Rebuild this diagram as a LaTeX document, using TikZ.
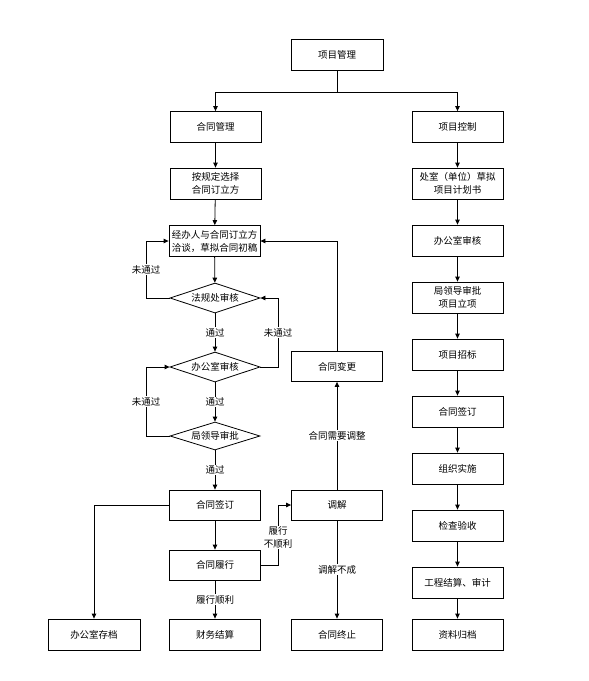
\documentclass[tikz,border=0pt]{standalone}
\usepackage{fontspec}
\setmainfont{Noto Sans CJK SC}
\usetikzlibrary{arrows.meta,shapes.geometric}
\begin{document}
\begin{tikzpicture}[x=1pt,y=-1pt,
  every node/.style={font=\fontsize{9.5}{13}\selectfont},
  box/.style={draw,line width=0.8pt,minimum width=91pt,minimum height=31pt,inner sep=1pt,align=center},
  dia/.style={draw,line width=0.8pt,diamond,aspect=3,minimum width=90pt,minimum height=30pt,inner sep=0pt},
  lbl/.style={fill=white,inner sep=1pt,align=center},
  line/.style={line width=0.8pt},
  arr/.style={line width=0.8pt,-{Triangle[length=5pt,width=4.5pt]}}]
\useasboundingbox (0,0) rectangle (589,681);
% nodes
\node[box,minimum width=92pt] (pm) at (337,54.5) {项目管理};
\node[box] (htgl) at (215.5,127) {合同管理};
\node[box] (xmkz) at (457.5,127) {项目控制};
\node[box] (azd) at (215.5,183.5) {按规定选择\\合同订立方};
\node[box] (jbr) at (214.5,241) {经办人与合同订立方\\洽谈，草拟合同初稿};
\node[dia] (d1) at (215,298) {法规处审核};
\node[dia] (d2) at (215,367) {办公室审核};
\node[dia,minimum height=28pt] (d3) at (215,436) {局领导审批};
\node[box,minimum height=30pt] (htqd) at (215,505) {合同签订};
\node[box,minimum height=30pt] (htlx) at (215,565) {合同履行};
\node[box,minimum width=92pt] (bgscd) at (94,634.5) {办公室存档};
\node[box] (cwjs) at (215,634.5) {财务结算};
\node[box] (htzz) at (337,634.5) {合同终止};
\node[box,minimum height=30pt] (tj) at (337,505) {调解};
\node[box,minimum height=30pt] (htbg) at (337,366.5) {合同变更};
\node[box] (r1) at (457.5,183.5) {处室（单位）草拟\\项目计划书};
\node[box] (r2) at (457.5,240.5) {办公室审核};
\node[box] (r3) at (457.5,297.5) {局领导审批\\项目立项};
\node[box] (r4) at (457.5,354.5) {项目招标};
\node[box] (r5) at (457.5,411.5) {合同签订};
\node[box] (r6) at (457.5,468.5) {组织实施};
\node[box] (r7) at (457.5,525.5) {检查验收};
\node[box] (r8) at (457.5,582.5) {工程结算、审计};
\node[box] (r9) at (457.5,634.5) {资料归档};
% top split
\coordinate (split) at (337,92);
\draw[line] (pm.south) -- (split);
\draw[arr] (split) -| (htgl.north);
\draw[arr] (split) -| (xmkz.north);
% left chain
\draw[arr] (htgl) -- (azd);
\draw[arr] (azd) -- (jbr);
\draw[arr] (jbr) -- (d1);
\draw[arr] (d1) -- node[lbl] {通过} (d2);
\draw[arr] (d2) -- node[lbl] {通过} (d3);
\draw[arr] (d3) -- node[lbl,pos=0.5] {通过} (htqd);
\draw[arr] (htqd) -- (htlx);
\draw[arr] (htlx) -- node[lbl] {履行顺利} (cwjs);
% loops
\coordinate (l1) at (146,298);
\draw[arr] (d1.west) -- (l1) |- node[lbl,pos=0.25] {未通过} (jbr.west);
\coordinate (l2) at (278,367);
\draw[arr] (d2.east) -- (l2) |- node[lbl,pos=0.25] {未通过} (d1.east);
\coordinate (l3) at (146,436);
\draw[arr] (d3.west) -- (l3) |- node[lbl,pos=0.25] {未通过} (d2.west);
% right of left column
\draw[arr] (htbg.north) |- (jbr.east);
\draw[arr] (tj) -- node[lbl] {合同需要调整} (htbg);
\draw[arr] (tj) -- node[lbl] {调解不成} (htzz);
\coordinate (l4) at (278,565);
\draw[arr] (htlx.east) -- (l4) |- node[lbl,pos=0.23] {履行\\不顺利} (tj.west);
\draw[arr] (htqd.west) -| (bgscd.north);
% right column
\draw[arr] (xmkz) -- (r1);
\draw[arr] (r1) -- (r2);
\draw[arr] (r2) -- (r3);
\draw[arr] (r3) -- (r4);
\draw[arr] (r4) -- (r5);
\draw[arr] (r5) -- (r6);
\draw[arr] (r6) -- (r7);
\draw[arr] (r7) -- (r8);
\draw[arr] (r8) -- (r9);
\end{tikzpicture}
\end{document}
